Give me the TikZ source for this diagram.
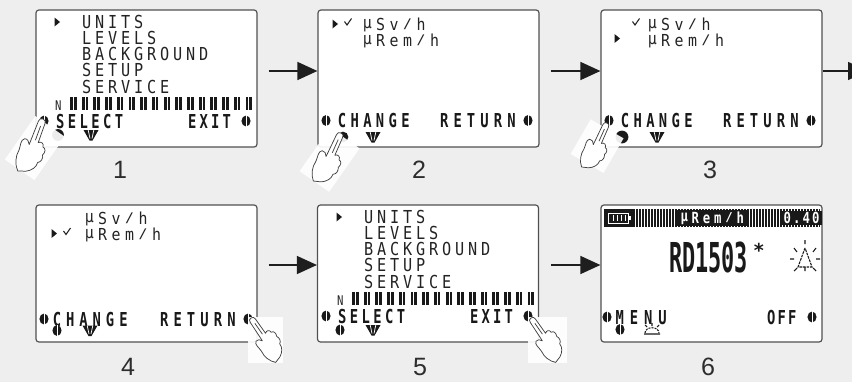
\documentclass[tikz,border=0pt]{standalone}
\usepackage{fontspec}
\usepackage{graphicx}
\setmainfont{Liberation Sans}
\newfontfamily\lcdfont{DejaVu Sans Mono}
\usetikzlibrary{arrows.meta}

\definecolor{paper}{RGB}{238,238,238}
\definecolor{frame}{RGB}{80,80,80}
\definecolor{lcdink}{RGB}{25,25,25}
\definecolor{lcdgray}{RGB}{35,35,35}
\definecolor{arrowink}{RGB}{30,30,30}
\definecolor{digit}{RGB}{45,45,45}

% one character per fixed-width cell, squeezed horizontally like a dot-matrix LCD
\ExplSyntaxOn
\NewDocumentCommand \lcdrow { m m m }
  {
    \tl_map_inline:nn { #3 }
      { \makebox[#1][c]{ \scalebox{#2}[1]{##1} } }
  }
\ExplSyntaxOff
% micro sign and slash kept between baseline and cap height, as the display draws them
\newcommand\umu{\raisebox{0.12em}{μ}}
\newcommand\uslash{\raisebox{0.12em}{\scalebox{1}[0.8]{/}}}

\newcommand\menufont{\lcdfont\fontsize{13.4pt}{14pt}\selectfont}
\newcommand\unitfont{\lcdfont\fontsize{12.4pt}{13pt}\selectfont}
\newcommand\keyfont{\lcdfont\bfseries\fontsize{14.4pt}{15pt}\selectfont}
\newcommand\bigfont{\lcdfont\bfseries\fontsize{30.9pt}{32pt}\selectfont}
\newcommand\smallfont{\lcdfont\fontsize{10pt}{11pt}\selectfont}
\newcommand\bandfont{\lcdfont\bfseries\fontsize{11.5pt}{12pt}\selectfont}
\newcommand\digitfont{\fontsize{18.8pt}{20pt}\selectfont}

\tikzset{
  screen/.style={draw=frame, fill=white, line width=0.9pt, rounded corners=2.2pt,
    minimum width=165.75pt, minimum height=102.75pt, inner sep=0pt},
  menu/.style={inner sep=0pt, anchor=base west, text=lcdgray, font=\menufont},
  units/.style={menu, font=\unitfont},
  keys/.style={inner sep=0pt, anchor=base west, text=lcdink, font=\keyfont},
  flowarrow/.style={draw=arrowink, line width=1.1pt, -{Triangle[length=15pt, width=13.5pt]}},
  steplabel/.style={text=digit, font=\digitfont, anchor=base, inner sep=0pt},
  handbg/.style={fill=white, opacity=0.92},
  handline/.style={draw=black!75, line width=0.55pt, line join=round, fill=white},
  pics/btn/.style={code={
    \fill[lcdink] (0,0) ellipse [x radius=3.4pt, y radius=4.1pt];
    \draw[white, line width=0.6pt] (0,-5.6) -- (0,5.6);}},
  pics/pressed/.style={code={\fill[lcdink] (0,0) circle [radius=#1];}},
  pics/downkey/.style={code={
    \fill[lcdink] (-7.5,-5) -- (7.5,-5) -- (1.5,5.5) -- (-1.5,5.5) -- cycle;
    \draw[white, line width=0.55pt] (-2.8,-5) -- (-1,3.5) (2.8,-5) -- (1,3.5);}},
  pics/cursor/.style={code={\fill[lcdink] (-2.5,-4.5) -- (-2.5,4.5) -- (3,0) -- cycle;}},
  pics/tick/.style={code={\draw[lcdgray, line width=0.8pt] (-3.5,-1) -- (-1,2.5) -- (3.5,-4);}},
  pics/hand/.style={code={
    \draw[handline] (0,0) .. controls (2,0) and (2.8,1) .. (2.8,3)
      -- (3.2,19)
      .. controls (5,17) and (8,18) .. (8,21)
      .. controls (10.5,21) and (11.5,24) .. (10,27)
      .. controls (11.5,29) and (11,33) .. (8.5,34)
      .. controls (9,38) and (6,42) .. (2,44)
      -- (-4,46)
      .. controls (-8,42) and (-10,36) .. (-9,30)
      .. controls (-9,26) and (-11,22) .. (-8,20)
      .. controls (-6,19) and (-4,21) .. (-3,23)
      -- (-2.8,3) .. controls (-2.8,1) and (-2,0) .. (0,0);
    \draw[handline, fill=none] (0.2,6) -- (0.4,18);}},
}

% main menu screen: #1 name prefix, #2 top-left corner, #3 lower-left key symbol
\newcommand\menuscreen[3]{%
  \begin{scope}[shift={(#2)}]
    \pic at (21,12) {cursor};
    \node[menu] (#1-units) at (44,18.5) {\lcdrow{9.75pt}{0.85}{UNITS}};
    \node[menu] (#1-levels) at (44,34) {\lcdrow{9.75pt}{0.85}{LEVELS}};
    \node[menu] (#1-bg) at (44,50.5) {\lcdrow{9.75pt}{0.85}{BACKGROUND}};
    \node[menu] (#1-setup) at (44,66.5) {\lcdrow{9.75pt}{0.85}{SETUP}};
    \node[menu] (#1-service) at (44,83) {\lcdrow{9.75pt}{0.85}{SERVICE}};
    \node[menu, font=\smallfont] (#1-n) at (18,100) {\lcdrow{6pt}{0.8}{N}};
    \foreach \i in {0,...,15} {
      \fill[lcdink] ({34+11.7*\i},87) rectangle ++(6.5,13);
      \draw[white, line width=0.5pt] ({37.25+11.7*\i},87) -- ++(0,13);
    }
    \pic at (8,111) {btn};
    \node[keys] (#1-select) at (18.2,118) {\lcdrow{8.8pt}{0.72}{SELECT}};
    \node[keys] (#1-exit) at (150.3,118) {\lcdrow{8.6pt}{0.72}{EXIT}};
    \pic at (210,111) {btn};
    \pic at (22,125) {#3};
    \pic at (55,125) {downkey};
  \end{scope}}

\begin{document}
\begin{tikzpicture}[x=0.75pt, y=-0.75pt]
  \fill[paper] (0,0) rectangle (852,382);
  \useasboundingbox (0,0) rectangle (852,382);
  \clip (0,0) rectangle (852,382);

  % the six display frames
  \node[screen] (s1) at (146.5,78.5) {};
  \node[screen] (s2) at (428.5,78.5) {};
  \node[screen] (s3) at (711.5,78.5) {};
  \node[screen] (s4) at (146.5,273.5) {};
  \node[screen] (s5) at (428,273.5) {};
  \node[screen] (s6) at (711.5,273.5) {};

  % 1 and 5: main menu
  \menuscreen{m1}{36,10}{pressed=4.4pt}
  \menuscreen{m5}{318,205}{btn}

  % 2: units list, cursor on uSv/h
  \begin{scope}[shift={(318,10)}]
    \pic at (17,14) {cursor};
    \pic at (30,12.5) {tick};
    \node[units] (u2-sv) at (42.25,20) {\lcdrow{10.1pt}{0.9}{\umu Sv\uslash h}};
    \node[units] (u2-rem) at (42.25,36) {\lcdrow{10.1pt}{0.9}{\umu Rem\uslash h}};
    \pic at (8,110.5) {btn};
    \node[keys] (u2-change) at (17.5,117.5) {\lcdrow{9.5pt}{0.72}{CHANGE}};
    \node[keys] (u2-return) at (119.2,117.5) {\lcdrow{10.1pt}{0.72}{RETURN}};
    \pic at (210,110.5) {btn};
    \pic at (25,127) {pressed=4pt};
    \pic at (55,127) {downkey};
  \end{scope}

  % 3: cursor moved to uRem/h
  \begin{scope}[shift={(601,10)}]
    \pic at (35,12.5) {tick};
    \node[units] (u3-sv) at (44.25,20) {\lcdrow{10.1pt}{0.9}{\umu Sv\uslash h}};
    \pic at (16,28.5) {cursor};
    \node[units] (u3-rem) at (44.25,36) {\lcdrow{10.1pt}{0.9}{\umu Rem\uslash h}};
    \pic at (8,110.5) {btn};
    \node[keys] (u3-change) at (17.5,117.5) {\lcdrow{9.5pt}{0.72}{CHANGE}};
    \node[keys] (u3-return) at (119.2,117.5) {\lcdrow{10.1pt}{0.72}{RETURN}};
    \pic at (210,110.5) {btn};
    \pic at (21,127) {pressed=4.8pt};
    \pic at (56,127) {downkey};
  \end{scope}

  % 4: uRem/h ticked
  \begin{scope}[shift={(36,205)}]
    \node[units] (u4-sv) at (46.25,19) {\lcdrow{10.1pt}{0.9}{\umu Sv\uslash h}};
    \pic at (18,28.5) {cursor};
    \pic at (31,27) {tick};
    \node[units] (u4-rem) at (46.25,35) {\lcdrow{10.1pt}{0.9}{\umu Rem\uslash h}};
    \pic at (8,114) {btn};
    \node[keys] (u4-change) at (14,121) {\lcdrow{9.98pt}{0.72}{CHANGE}};
    \node[keys] (u4-return) at (121.2,121) {\lcdrow{10.1pt}{0.72}{RETURN}};
    \pic at (212,114) {btn};
    \pic at (21,125.5) {btn};
    \pic at (54,125.5) {downkey};
  \end{scope}

  % 6: measuring screen
  \begin{scope}[shift={(601,205)}]
    \fill[lcdink] (3,4) rectangle (219,22);
    \foreach \x in {34,37,...,217} \draw[white, line width=0.6pt] (\x,4) -- (\x,22);
    \draw[white, line width=0.7pt] (7,8) rectangle (27,18);
    \fill[white] (27,11) rectangle (29.5,15);
    \foreach \x in {12,16,20,24} \draw[white, line width=0.7pt] (\x,10) -- (\x,16);
    \node[inner sep=1pt, fill=lcdink, text=white, anchor=west, font=\bandfont]
      (d6-unit) at (76,13) {\lcdrow{8.4pt}{0.8}{\umu Rem\uslash h}};
    \node[inner sep=1pt, fill=lcdink, text=white, anchor=west, font=\bandfont]
      (d6-value) at (180,13) {\lcdrow{7.1pt}{0.8}{0.40}};
    \node[inner sep=0pt, anchor=base west, text=lcdink, font=\bigfont]
      (d6-model) at (68,67) {\lcdrow{9.75pt}{0.53}{RD1503}};
    \node[inner sep=0pt, text=lcdink, font=\keyfont] (d6-star) at (158,45) {*};
    % alarm bell with rays
    \draw[lcdink, line width=0.8pt, dash pattern=on 2pt off 0.7pt]
      (204,43) -- (197,62) -- (211,62) -- cycle;
    \draw[lcdink, line width=0.8pt]
      (204,62) -- (204,66)
      (204,35) -- (204,39) (193,43) -- (196,47) (215,43) -- (212,47)
      (189,54) -- (193,54) (215,54) -- (219,54)
      (193,66) -- (196,63) (215,66) -- (212,63);
    \pic at (6,112) {btn};
    \node[keys] (d6-menu) at (11.5,119) {\lcdrow{10.65pt}{0.72}{MENU}};
    \node[keys] (d6-off) at (164.7,119) {\lcdrow{7.9pt}{0.72}{OFF}};
    \pic at (211,112) {btn};
    \pic at (19,124.5) {btn};
    % backlight key symbol
    \draw[lcdink, line width=0.8pt, dash pattern=on 1.5pt off 0.8pt]
      (44,128) .. controls (44,121) and (58,121) .. (58,128);
    \draw[lcdink, line width=0.8pt]
      (43,129) -- (59,129) (51,118) -- (51,121) (44,120) -- (46,122) (58,120) -- (56,122);
  \end{scope}

  % pressing fingers
  \begin{scope}[shift={(43,119)}]
    \fill[handbg, rotate=-35] (-8,2) rectangle (28,55);
    \pic[rotate=-21, scale=1.25] {hand};
  \end{scope}
  \begin{scope}[shift={(341,133)}]
    \fill[handbg, rotate=-35] (-12,2) rectangle (24,55);
    \pic[rotate=-25, scale=1.2] {hand};
  \end{scope}
  \begin{scope}[shift={(607,123)}]
    \fill[handbg, rotate=-30] (-16,5) rectangle (22,45);
    \pic[rotate=-25, scale=1.1] {hand};
  \end{scope}
  \fill[handbg] (248,317) rectangle (283,363);
  \pic[rotate=34, scale=1.1] at (251,318) {hand};
  \fill[handbg] (528,317) rectangle (567,363);
  \pic[rotate=34, scale=1.1] at (531,318) {hand};

  % flow arrows
  \path (s1.east) ++(11,-7.5) coordinate (a1);
  \path (s2.east) ++(11,-7.5) coordinate (a2);
  \path (s3.east) ++(0,-7.5) coordinate (a3);
  \path (s4.east) ++(11,-8.5) coordinate (a4);
  \path (s5.east) ++(12,-8.5) coordinate (a5);
  \coordinate (onward) at (868,71);
  \draw[flowarrow] (a1) -- (s2.west |- a1);
  \draw[flowarrow] (a2) -- (s3.west |- a2);
  \draw[flowarrow] (a3) -- (onward);
  \draw[flowarrow] (a4) -- (s5.west |- a4);
  \draw[flowarrow] (a5) -- (s6.west |- a5);

  % step numbers
  \node[steplabel] (n1) at (120,178) {1};
  \node[steplabel] (n2) at (419,178) {2};
  \node[steplabel] (n3) at (710,178) {3};
  \node[steplabel] (n4) at (128,375) {4};
  \node[steplabel] (n5) at (420,375) {5};
  \node[steplabel] (n6) at (708,375) {6};
\end{tikzpicture}
\end{document}
